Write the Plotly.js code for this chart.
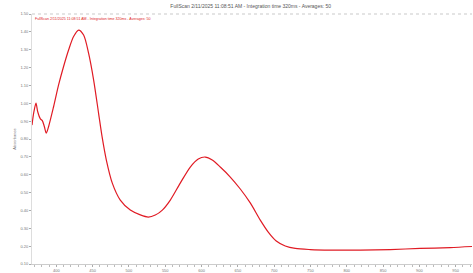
<!DOCTYPE html>
<html>
<head>
<meta charset="utf-8">
<script src="https://cdn.plot.ly/plotly-3.0.1.min.js"></script>
<style>html,body{margin:0;padding:0;background:#fff;}#chart{width:473px;height:273px;}</style>
</head>
<body>
<div id="chart"></div>
<script>
var wavelength = [366.5, 369, 372, 374.3, 378, 380.7, 383.5, 386.2, 389.4, 396.3, 403.2, 410, 417, 423.8, 430.7, 437.6, 444.5, 451.4, 458.2, 463, 468.9, 477.1, 488.1, 501.9, 515.7, 526.7, 536.3, 546, 557, 570.7, 584.5, 595.5, 605.2, 614.8, 625.8, 639.6, 653.4, 667.1, 680.9, 691.9, 702.9, 715.3, 729.1, 749.8, 777.3, 818.6, 859.9, 901.2, 942.5, 972.8];
var absorbance = [0.878, 0.95, 1.001, 0.954, 0.913, 0.903, 0.870, 0.833, 0.870, 0.982, 1.104, 1.206, 1.300, 1.374, 1.410, 1.382, 1.279, 1.130, 0.944, 0.813, 0.682, 0.553, 0.458, 0.402, 0.375, 0.363, 0.374, 0.402, 0.458, 0.553, 0.643, 0.688, 0.699, 0.682, 0.643, 0.587, 0.520, 0.442, 0.346, 0.279, 0.229, 0.201, 0.187, 0.181, 0.178, 0.178, 0.181, 0.187, 0.192, 0.198];
var seriesName = "FullScan 2/11/2025 11:08:51 AM - Integration time 320ms - Averages: 50";
var chartTitle = "FullScan 2/11/2025 11:08:51 AM - Integration time 320ms - Averages: 50";
var yTitle = "Absorbance";

var trace = {
  x: wavelength, y: absorbance, type: 'scatter', mode: 'lines',
  line: {color: '#e01b24', width: 1.2, shape: 'spline', smoothing: 0.8},
  name: seriesName, showlegend: false
};
var layout = {
  width: 473, height: 273,
  margin: {l: 32, r: 1, t: 14, b: 9},
  paper_bgcolor: '#fff', plot_bgcolor: '#fff',
  font: {family: 'Arial, Liberation Sans, sans-serif', color: '#666', size: 4},
  title: {text: chartTitle, font: {size: 5, color: '#555'}, x: 0.53, xanchor: 'center', y: 0.985, yanchor: 'top'},
  xaxis: {
    range: [366.5, 972.5], tick0: 400, dtick: 50, ticks: 'outside', ticklen: 2, tickcolor: '#aaa',
    showgrid: false, zeroline: false, showline: true, linecolor: '#ccc', linewidth: 1,
    tickfont: {size: 4, color: '#777'},
    minor: {dtick: 10, ticks: 'outside', ticklen: 1.5, tickcolor: '#bbb', showgrid: false}
  },
  yaxis: {
    range: [0.10, 1.50], tick0: 0.1, dtick: 0.1, tickformat: '.2f', ticks: 'outside', ticklen: 2, tickcolor: '#aaa',
    showgrid: false, zeroline: false, showline: true, linecolor: '#ddd', linewidth: 1,
    tickfont: {size: 4, color: '#777'},
    title: {text: yTitle, font: {size: 4, color: '#777'}, standoff: 4}
  },
  shapes: [{type: 'line', xref: 'paper', yref: 'paper', x0: 0, x1: 1, y0: 1, y1: 1, line: {color: '#bbb', width: 0.8, dash: 'dot'}}],
  annotations: [{text: seriesName, xref: 'paper', yref: 'paper', x: 0.003, y: 0.997, xanchor: 'left', yanchor: 'top', showarrow: false, font: {size: 3.6, color: '#e01b24'}}]
};
Plotly.newPlot('chart', [trace], layout, {displayModeBar: false, staticPlot: true});
</script>
</body>
</html>
